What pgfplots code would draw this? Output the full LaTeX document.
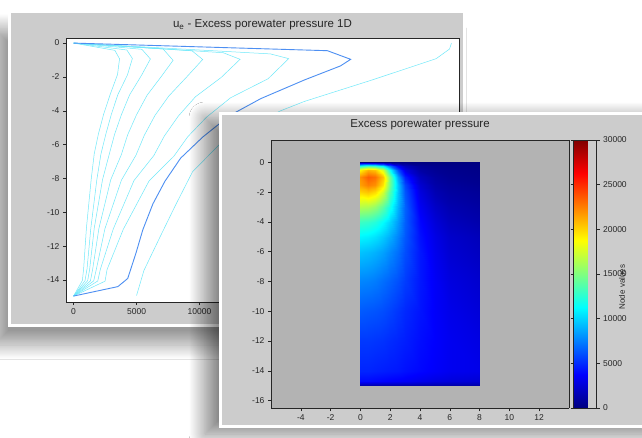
\documentclass[border=0pt]{standalone}
\usepackage{fontspec}
\setmainfont{Liberation Sans}
\usepackage{pgfplots}
\pgfplotsset{compat=1.18}
\usetikzlibrary{shadows.blur}

\definecolor{panelgray}{HTML}{CCCCCC}
\definecolor{plotgray}{HTML}{B3B3B3}
\definecolor{isocyan}{HTML}{6FE9FA}
\definecolor{isoblue}{HTML}{4D8FF2}
\definecolor{labelgray}{HTML}{262626}

\pgfplotsset{
  panelaxis/.style={
    scale only axis,
    tick align=outside,
    major tick length=3pt,
    axis line style={black!85, line width=0.6pt},
    tick style={black!85, line width=0.5pt},
    tick label style={font=\fontsize{8.5}{10}\selectfont, text=labelgray},
    /pgf/number format/assume math mode=true,
    /pgf/number format/1000 sep={},
    scaled x ticks=false, scaled y ticks=false,
    title style={font=\fontsize{11.5}{13}\selectfont, text=labelgray},
  },
}

\begin{document}
\begin{tikzpicture}[x=1pt,y=1pt]
\useasboundingbox (0,0) rectangle (642,-438);
\clip (0,0) rectangle (642,-438);
\fill[white] (0,0) rectangle (642,-438);

% ---------- 1D isochrones panel ----------
\fill[white, blur shadow={shadow xshift=-14pt, shadow yshift=-18pt, shadow blur radius=14pt,
    shadow blur steps=30, shadow opacity=40}]
  (8,-10) rectangle (466,-327);
\fill[panelgray] (11,-13) rectangle (463,-324);

\begin{axis}[
  panelaxis,
  at={(66pt,-302pt)}, anchor=south west,
  width=393pt, height=264pt,
  xmin=-600, xmax=30600, ymin=-15.3, ymax=0.3,
  xtick={0,5000,10000}, ytick={-14,-12,...,0},
  xtick pos=left, ytick pos=left,
  axis background/.style={fill=white},
  title={u\textsubscript{e} - Excess porewater pressure 1D},
  title style={at={(0.5,1)}, anchor=center, yshift=7pt},
]
% isochrones, early to late consolidation
\addplot[isocyan, line width=0.5pt] coordinates {
  (0,0) (3280,-0.43) (3650,-0.93) (3490,-1.86) (2910,-3.03) (2390,-4.20)
  (1970,-5.38) (1640,-6.55) (1400,-8.05) (1020,-10.94) (800,-13.34) (700,-14.03) (0,-14.95)};
\addplot[isocyan, line width=0.5pt] coordinates {
  (0,0) (4230,-0.41) (4670,-0.91) (4280,-1.88) (3520,-3.04) (3000,-4.21)
  (2560,-5.39) (2170,-6.57) (1850,-8.06) (1370,-10.95) (1070,-13.34) (910,-14.04) (0,-14.95)};
\addplot[isocyan, line width=0.5pt] coordinates {
  (0,0) (5430,-0.37) (6100,-0.94) (5400,-1.90) (4450,-3.06) (3800,-4.23)
  (3250,-5.41) (2830,-6.58) (2300,-8.07) (1640,-10.95) (1280,-13.35) (1120,-14.04) (0,-14.95)};
\addplot[isocyan, line width=0.5pt] coordinates {
  (0,0) (7110,-0.35) (7900,-1.02) (7000,-1.94) (5830,-3.09) (4990,-4.25)
  (4290,-5.43) (3790,-6.60) (2950,-8.08) (2010,-10.96) (1520,-13.35) (1340,-14.05) (0,-14.95)};
\addplot[isocyan, line width=0.5pt] coordinates {
  (0,0) (9410,-0.46) (10250,-0.97) (9010,-1.98) (7560,-3.13) (6460,-4.28)
  (5610,-5.46) (4960,-6.62) (3800,-8.10) (2490,-10.97) (1810,-13.36) (1600,-14.05) (0,-14.95)};
\addplot[isocyan, line width=0.5pt] coordinates {
  (0,0) (11880,-0.57) (13220,-0.96) (11720,-2.03) (9680,-3.17) (8310,-4.32)
  (7210,-5.49) (6370,-6.65) (4800,-8.12) (3150,-10.99) (2130,-13.36) (1920,-14.06) (0,-14.95)};
\addplot[isocyan, line width=0.5pt] coordinates {
  (0,0) (15630,-0.64) (17080,-0.92) (15440,-2.11) (12470,-3.23) (10570,-4.37)
  (9070,-5.53) (7960,-6.69) (6000,-8.14) (3950,-11.00) (2660,-13.38) (2500,-14.07) (0,-14.95)};
\addplot[isoblue, line width=0.9pt] coordinates {
  (0,0) (20150,-0.45) (22000,-0.96) (21190,-1.35) (18360,-2.17) (14870,-3.28)
  (12400,-4.28) (10260,-5.55) (8500,-6.80) (7250,-8.17) (6300,-9.50) (5500,-11.03)
  (4950,-12.42) (4300,-13.91) (3520,-14.39) (0,-14.95)};
\addplot[isocyan, line width=0.5pt] coordinates {
  (30000,0) (29850,-0.35) (28790,-0.92) (23700,-2.18) (18320,-3.45) (16440,-4.00)
  (12120,-5.59) (9450,-7.60) (8120,-9.54) (6850,-11.48) (5590,-13.43) (5000,-14.92)};
\end{axis}

% ---------- 2D field panel ----------
\fill[white, blur shadow={shadow xshift=-14pt, shadow yshift=-6pt, shadow blur radius=16pt,
    shadow blur steps=30, shadow opacity=50}]
  (219,-112) rectangle (660,-428);
\fill[panelgray] (222,-115) rectangle (660,-425);

\begin{axis}[
  panelaxis,
  at={(271pt,-408pt)}, anchor=south west,
  width=298pt, height=268pt,
  view={0}{90},
  xmin=-6, xmax=14, ymin=-16.5, ymax=1.5,
  xtick={-4,-2,...,12}, ytick={-16,-14,...,0}, ztick=\empty,
  xtick pos=left, ytick pos=left,
  axis background/.style={fill=plotgray},
  axis on top,
  colormap/jet,
  point meta min=0, point meta max=30000,
  title={Excess porewater pressure},
  title style={at={(0.5,1)}, anchor=center, yshift=9pt},
  colorbar,
  colorbar style={
    at={(parent axis.north east)}, anchor=north west, xshift=-4pt,
    scale only axis, width=23pt,
    ytick={0,5000,...,30000},
    tick align=outside, major tick length=3pt,
    axis line style={black!85, line width=0.6pt},
    tick style={black!85, line width=0.5pt},
    yticklabel style={font=\fontsize{8.5}{10}\selectfont, text=labelgray},
    /pgf/number format/assume math mode=true,
    /pgf/number format/1000 sep={},
    scaled y ticks=false,
  },
]
\addplot3[surf, shader=interp, mesh/cols=11] table {
x y z
0 0 0
0.5 0 0
1 0 0
1.5 0 0
2 0 0
2.5 0 0
3 0 0
4 0 0
5 0 0
6 0 0
8 0 0
0 -0.25 12000
0.5 -0.25 13500
1 -0.25 13000
1.5 -0.25 11000
2 -0.25 7000
2.5 -0.25 3500
3 -0.25 1800
4 -0.25 700
5 -0.25 400
6 -0.25 250
8 -0.25 150
0 -0.5 19000
0.5 -0.5 21000
1 -0.5 20500
1.5 -0.5 17500
2 -0.5 11500
2.5 -0.5 6000
3 -0.5 3000
4 -0.5 1100
5 -0.5 600
6 -0.5 400
8 -0.5 250
0 -1 22000
0.5 -1 23500
1 -1 23000
1.5 -1 20500
2 -1 14500
2.5 -1 8500
3 -1 4600
4 -1 1800
5 -1 900
6 -1 550
8 -1 350
0 -1.5 21500
0.5 -1.5 22500
1 -1.5 22000
1.5 -1.5 19500
2 -1.5 14500
2.5 -1.5 9500
3 -1.5 5800
4 -1.5 2400
5 -1.5 1200
6 -1.5 800
8 -1.5 500
0 -2 20000
0.5 -2 20500
1 -2 19800
1.5 -2 17500
2 -2 13500
2.5 -2 9500
3 -2 6200
4 -2 2800
5 -2 1500
6 -2 1000
8 -2 700
0 -3 16500
0.5 -3 16300
1 -3 15600
1.5 -3 14000
2 -3 11800
2.5 -3 9000
3 -3 6600
4 -3 3400
5 -3 2100
6 -3 1400
8 -3 1000
0 -4 13000
0.5 -4 12800
1 -4 12300
1.5 -4 11300
2 -4 10000
2.5 -4 8300
3 -4 6500
4 -4 3900
5 -4 2600
6 -4 1800
8 -4 1300
0 -5 11000
0.5 -5 10800
1 -5 10400
1.5 -5 9700
2 -5 8800
2.5 -5 7600
3 -5 6300
4 -5 4200
5 -5 3000
6 -5 2200
8 -5 1700
0 -6 9500
0.5 -6 9300
1 -6 9000
1.5 -6 8500
2 -6 7800
2.5 -6 7000
3 -6 6000
4 -6 4400
5 -6 3200
6 -6 2400
8 -6 1900
0 -8 7700
0.5 -8 7600
1 -8 7400
1.5 -8 7000
2 -8 6600
2.5 -8 6100
3 -8 5500
4 -8 4400
5 -8 3500
6 -8 2800
8 -8 2300
0 -10 6400
0.5 -10 6300
1 -10 6200
1.5 -10 6000
2 -10 5700
2.5 -10 5300
3 -10 4900
4 -10 4300
5 -10 3600
6 -10 3100
8 -10 2600
0 -12 5400
0.5 -12 5400
1 -12 5300
1.5 -12 5200
2 -12 5000
2.5 -12 4800
3 -12 4600
4 -12 4100
5 -12 3700
6 -12 3300
8 -12 2900
0 -14 4800
0.5 -14 4800
1 -14 4700
1.5 -14 4600
2 -14 4500
2.5 -14 4400
3 -14 4200
4 -14 3900
5 -14 3600
6 -14 3300
8 -14 3100
0 -14.7 4000
0.5 -14.7 4000
1 -14.7 3900
1.5 -14.7 3800
2 -14.7 3700
2.5 -14.7 3600
3 -14.7 3500
4 -14.7 3200
5 -14.7 2900
6 -14.7 2700
8 -14.7 2500
0 -15 1000
0.5 -15 1000
1 -15 1000
1.5 -15 1000
2 -15 1000
2.5 -15 1000
3 -15 1000
4 -15 1000
5 -15 1000
6 -15 1000
8 -15 1000
};
\end{axis}

\node[rotate=90, font=\fontsize{8}{9}\selectfont, text=labelgray] at (622,-287) {Node values};
\end{tikzpicture}
\end{document}
